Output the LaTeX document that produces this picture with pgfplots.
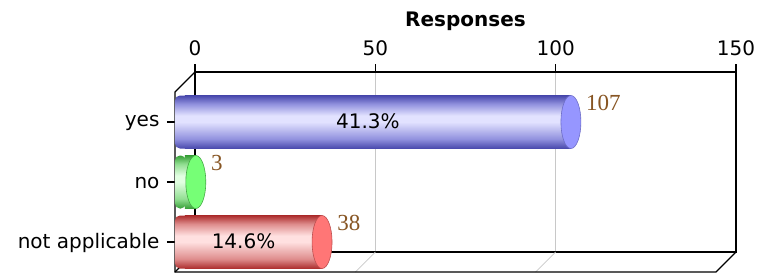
\documentclass[border=0pt]{standalone}
\usepackage{pgfplots}
\pgfplotsset{compat=1.18}
\usepackage{fontspec}
\setmainfont{DejaVu Sans}
\newfontfamily\valfont{Liberation Serif}

\definecolor{bdark}{RGB}{72,72,172}
\definecolor{bmid}{RGB}{145,145,222}
\definecolor{blight}{RGB}{226,226,255}
\definecolor{bcap}{RGB}{150,150,255}
\definecolor{bedge}{RGB}{110,110,200}
\definecolor{gdark}{RGB}{55,160,55}
\definecolor{gmid}{RGB}{145,222,145}
\definecolor{glight}{RGB}{226,255,226}
\definecolor{gcap}{RGB}{118,255,118}
\definecolor{gedge}{RGB}{70,170,70}
\definecolor{rdark}{RGB}{172,45,45}
\definecolor{rmid}{RGB}{222,140,140}
\definecolor{rlight}{RGB}{255,224,224}
\definecolor{rcap}{RGB}{255,118,118}
\definecolor{redge}{RGB}{190,80,80}
\definecolor{gridgray}{RGB}{200,200,200}
\definecolor{valbrown}{RGB}{135,85,35}

\pgfdeclareverticalshading{cylb}{100bp}{color(0bp)=(bdark); color(25bp)=(bdark); color(34bp)=(bmid); color(50bp)=(blight); color(56bp)=(blight); color(67bp)=(bmid); color(75bp)=(bdark); color(100bp)=(bdark)}
\pgfdeclareverticalshading{cylg}{100bp}{color(0bp)=(gdark); color(25bp)=(gdark); color(34bp)=(gmid); color(50bp)=(glight); color(56bp)=(glight); color(67bp)=(gmid); color(75bp)=(gdark); color(100bp)=(gdark)}
\pgfdeclareverticalshading{cylr}{100bp}{color(0bp)=(rdark); color(25bp)=(rdark); color(34bp)=(rmid); color(50bp)=(rlight); color(56bp)=(rlight); color(67bp)=(rmid); color(75bp)=(rdark); color(100bp)=(rdark)}

\pgfdeclareplotmark{cap}{%
  \pgfpathellipse{\pgfpointorigin}{\pgfqpoint{10pt}{0pt}}{\pgfqpoint{0pt}{26.5pt}}%
  \pgfusepathqfillstroke}

\begin{document}
\begin{tikzpicture}
\begin{axis}[
  scale only axis, width=541pt, height=180pt,
  xmin=0, xmax=150, ymin=-0.5, ymax=2.5, y dir=reverse,
  enlargelimits=false, clip=false,
  xtick={0,50,100,150}, xtick pos=right, xticklabel pos=right,
  ytick={0,1,2}, yticklabels={yes,no,not applicable}, ytick pos=left,
  tick align=outside, major tick length=8pt,
  xmajorgrids, grid style={draw=gridgray, line width=0.8pt},
  axis line style={line width=1.2pt, black},
  tick style={black, line width=1.2pt},
  major y tick style={xshift=-20pt, yshift=-20pt},
  tick label style={font=\fontsize{20}{24}\selectfont},
  xticklabel style={anchor=base, yshift=9pt},
  yticklabel style={anchor=east, xshift=-24pt, yshift=-21pt},
  title=Responses,
  title style={font=\bfseries\fontsize{20}{24}\selectfont, at={(0.5,1)}, anchor=base, yshift=40pt},
  /pgf/number format/assume math mode=true,
]
% floor grid lines and 3D frame
\draw[gridgray, line width=0.8pt] (axis cs:50,2.5) -- ++(-20pt,-20pt);
\draw[gridgray, line width=0.8pt] (axis cs:100,2.5) -- ++(-20pt,-20pt);
\draw[black, line width=1.2pt, line join=miter] (axis cs:0,-0.5) -- ++(-20pt,-20pt)
   -- ([shift={(-20pt,-20pt)}]axis cs:0,2.5) -- ([shift={(-20pt,-20pt)}]axis cs:150,2.5) -- (axis cs:150,2.5);
\draw[black, line width=1.2pt] (axis cs:0,2.5) -- ++(-20pt,-20pt);

% yes
\addplot[xbar, bar width=53pt, bar shift=0pt, draw=none, shade, shading=cylb, rounded corners=5pt, xshift=-20pt, yshift=-20pt] coordinates {(107,0)};
\addplot[xbar, bar width=53pt, bar shift=0pt, draw=none, shade, shading=cylb, xshift=-10pt, yshift=-20pt] coordinates {(107,0)};
\addplot[only marks, mark=cap, mark options={fill=bcap, draw=bedge, line width=0.6pt}, xshift=-10pt, yshift=-20pt,
  point meta=x, nodes near coords, nodes near coords style={font=\valfont\fontsize{23}{24}\selectfont, text=valbrown, anchor=base west, inner sep=0pt, xshift=15pt, yshift=12pt}] coordinates {(107,0)};
% no
\addplot[xbar, bar width=53pt, bar shift=0pt, draw=none, shade, shading=cylg, rounded corners=5pt, xshift=-20pt, yshift=-20pt] coordinates {(3,1)};
\addplot[xbar, bar width=53pt, bar shift=0pt, draw=none, shade, shading=cylg, xshift=-10pt, yshift=-20pt] coordinates {(3,1)};
\addplot[only marks, mark=cap, mark options={fill=gcap, draw=gedge, line width=0.6pt}, xshift=-10pt, yshift=-20pt,
  point meta=x, nodes near coords, nodes near coords style={font=\valfont\fontsize{23}{24}\selectfont, text=valbrown, anchor=base west, inner sep=0pt, xshift=15pt, yshift=12pt}] coordinates {(3,1)};
% not applicable
\addplot[xbar, bar width=53pt, bar shift=0pt, draw=none, shade, shading=cylr, rounded corners=5pt, xshift=-20pt, yshift=-20pt] coordinates {(38,2)};
\addplot[xbar, bar width=53pt, bar shift=0pt, draw=none, shade, shading=cylr, xshift=-10pt, yshift=-20pt] coordinates {(38,2)};
\addplot[only marks, mark=cap, mark options={fill=rcap, draw=redge, line width=0.6pt}, xshift=-10pt, yshift=-20pt,
  point meta=x, nodes near coords, nodes near coords style={font=\valfont\fontsize{23}{24}\selectfont, text=valbrown, anchor=base west, inner sep=0pt, xshift=15pt, yshift=12pt}] coordinates {(38,2)};
% percentages
\addplot[draw=none, mark=none, xshift=-20pt, yshift=-20pt, point meta=explicit,
  nodes near coords={\pgfmathprintnumber[fixed,fixed zerofill,precision=1]{\pgfplotspointmeta}\%},
  nodes near coords style={font=\fontsize{20}{24}\selectfont, text=black, anchor=base, inner sep=0pt, yshift=-6pt}]
  table[meta=p] {
x y p
53.5 0 41.3
19 2 14.6
};
\end{axis}
\pgfresetboundingbox
\path[use as bounding box] (-195pt,-24pt) rectangle (564pt,252pt);
\end{tikzpicture}
\end{document}
